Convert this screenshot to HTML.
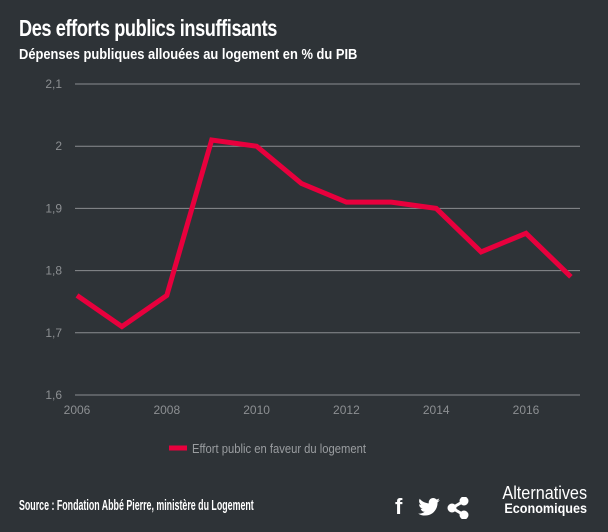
<!DOCTYPE html>
<html><head><meta charset="utf-8"><style>
body{margin:0;width:608px;height:532px;background:#2e3337;overflow:hidden;font-family:"Liberation Sans",sans-serif;color:#fff}
.t{position:absolute;left:19px;top:15px;font-size:23px;font-weight:bold;letter-spacing:-0.5px;transform:scaleX(0.79);transform-origin:left;white-space:nowrap}
.s{position:absolute;left:19px;top:46px;font-size:15px;font-weight:bold;transform:scaleX(0.86);transform-origin:left;white-space:nowrap}
.src{position:absolute;left:19px;top:497px;font-size:15px;font-weight:bold;transform:scaleX(0.59);transform-origin:left;white-space:nowrap}
</style></head><body>
<div class="t">Des efforts publics insuffisants</div>
<div class="s">Dépenses publiques allouées au logement en % du PIB</div>
<svg id="c" width="608" height="532" style="position:absolute;left:0;top:0"></svg>
<div class="src">Source : Fondation Abbé Pierre, ministère du Logement</div>
<div style="position:absolute;left:395px;top:494px;font:bold 22px 'Liberation Sans',sans-serif">f</div>
<svg style="position:absolute;left:418px;top:498px" width="22" height="18" viewBox="0 0 24 20"><path fill="#fff" d="M24 2.4c-.9.4-1.8.6-2.8.8 1-.6 1.8-1.6 2.2-2.7-1 .6-2 1-3.1 1.2C19.3.6 18 0 16.6 0c-2.7 0-4.9 2.2-4.9 4.9 0 .4 0 .8.1 1.100C7.7 5.8 4.1 3.9 1.7.9c-.4.7-.7 1.6-.7 2.5 0 1.7.9 3.2 2.2 4.1-.8 0-1.6-.2-2.2-.6v.1c0 2.4 1.7 4.4 3.9 4.8-.4.1-.8.2-1.3.2-.3 0-.6 0-.9-.1.6 2 2.4 3.4 4.6 3.4-1.700 1.3-3.8 2.1-6.1 2.1-.4 0-.8 0-1.2-.1 2.2 1.4 4.8 2.2 7.5 2.2 9.1 0 14-7.5 14-14v-.6c1-.7 1.8-1.6 2.5-2.5z"/></svg>
<svg style="position:absolute;left:447px;top:497px" width="22" height="22"><g fill="#fff" stroke="#fff" stroke-width="3"><line x1="5" y1="11" x2="17" y2="4"/><line x1="5" y1="11" x2="17" y2="18"/><circle cx="5" cy="11" r="3"/><circle cx="17" cy="4" r="3"/><circle cx="17" cy="18" r="3"/></g></svg>
<div style="position:absolute;left:493px;top:486px;line-height:15px;text-align:right;width:94px"><div style="font-size:18px;transform:scaleX(0.9);transform-origin:right">Alternatives</div><div style="font-size:14px;font-weight:bold;transform:scaleX(0.9);transform-origin:right">Economiques</div></div>
<script>
const years=[2006,2007,2008,2009,2010,2011,2012,2013,2014,2015,2016,2017];
const values=[1.76,1.71,1.76,2.01,2.00,1.94,1.91,1.91,1.90,1.83,1.86,1.79];
const yTicks=[1.6,1.7,1.8,1.9,2.0,2.1];
const xTicks=[2006,2008,2010,2012,2014,2016];
const svg=document.getElementById('c');const NS='http://www.w3.org/2000/svg';
const x=v=>77+(v-2006)*44.9;const y=v=>395-(v-1.6)*622;
function mk(t,a){const e=document.createElementNS(NS,t);for(const k in a)e.setAttribute(k,a[k]);svg.appendChild(e);return e;}
yTicks.forEach(v=>{const l=mk('line',{x1:75,x2:580,y1:y(v),y2:y(v),stroke:'#8a8d90','stroke-width':1});

const t=mk('text',{x:62,y:y(v)+4,'text-anchor':'end',fill:'#8c8f92','font-size':12,'font-family':'Liberation Sans, sans-serif'});t.textContent=String(v).replace('.',',');
});
xTicks.forEach(v=>{const t=mk('text',{x:x(v),y:414,'text-anchor':'middle',fill:'#8c8f92','font-size':12,'font-family':'Liberation Sans, sans-serif'});t.textContent=v;
});
const p=mk('polyline',{points:years.map((yr,i)=>x(yr)+','+y(values[i])).join(' '),fill:'none',stroke:'#e8003d','stroke-width':5,'stroke-linejoin':'miter'});

const ll=mk('line',{x1:169,x2:187,y1:448,y2:448,stroke:'#e8003d','stroke-width':5});

const lt=mk('text',{x:192,y:453,fill:'#9a9da0','font-size':13,'font-family':'Liberation Sans, sans-serif',textLength:174,lengthAdjust:'spacingAndGlyphs'});lt.textContent='Effort public en faveur du logement';

</script>
</body></html>
